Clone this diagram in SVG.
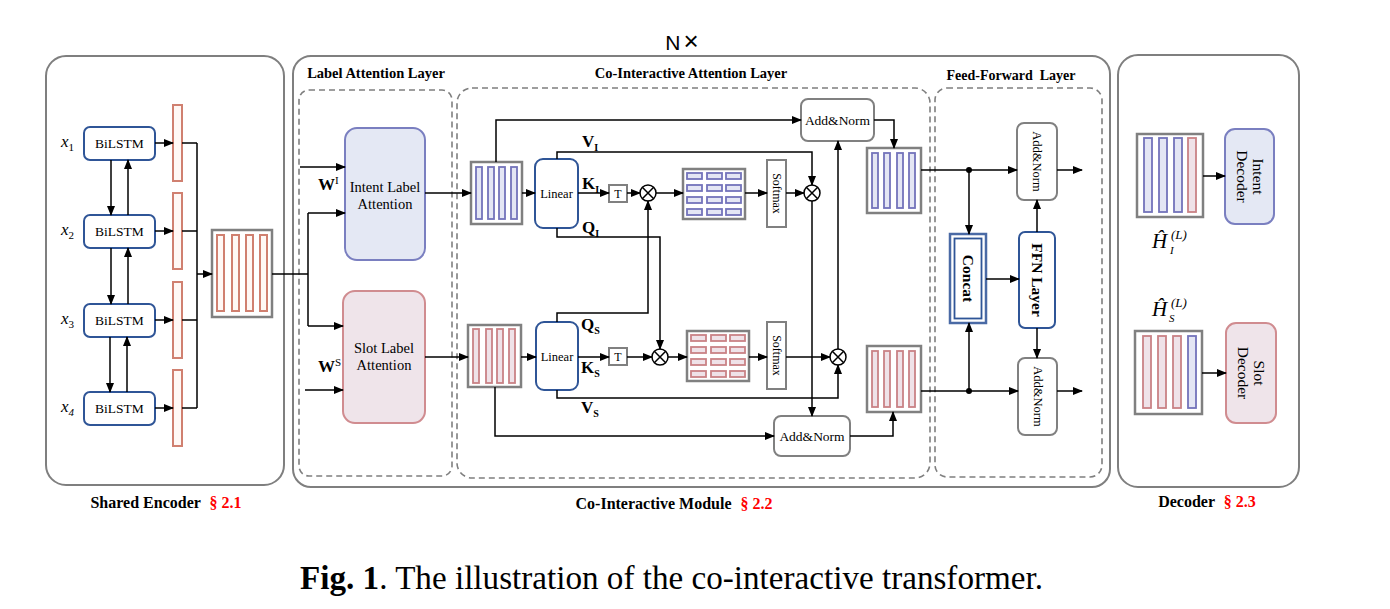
<svg xmlns="http://www.w3.org/2000/svg" width="1390" height="609" viewBox="0 0 1390 609">
<defs>
<marker id="ah" markerWidth="10" markerHeight="8" refX="9" refY="4" orient="auto" markerUnits="userSpaceOnUse">
<path d="M0,0 L10,4 L0,8 Z" fill="#000"/>
</marker>
<style>
.outer{fill:#fff;stroke:#7f7f7f;stroke-width:2}
.dash{fill:none;stroke:#7f7f7f;stroke-width:1.6;stroke-dasharray:6 4}
.bil{fill:#fff;stroke:#2f5597;stroke-width:2}
.sbar{fill:#fff8f5;stroke:#d08070;stroke-width:2}
.mat{fill:#fff;stroke:#808080;stroke-width:2.5}
.pbar{fill:#e4e6f4;stroke:#7373bb;stroke-width:1.8}
.rbar{fill:#efe2e8;stroke:#c98286;stroke-width:1.8}
.gbox{fill:#fff;stroke:#808080;stroke-width:2}
.bbox{fill:#fff;stroke:#2f5597;stroke-width:2}
.c{fill:none;stroke:#000;stroke-width:1.5}
.ca{fill:none;stroke:#000;stroke-width:1.5;marker-end:url(#ah)}
.t{font-family:"Liberation Serif","Times New Roman",serif;fill:#000}
.b{font-weight:bold}
.red{fill:#ff0000}
.ot{fill:#fff;stroke:#000;stroke-width:1.5}
</style>
</defs>

<text x="682" y="50" text-anchor="middle" style="font-family:'Liberation Sans',Arial,sans-serif;font-size:21px" fill="#000">N<tspan font-size="26" font-weight="100" dx="3">×</tspan></text>

<!-- Shared encoder -->
<g id="shared-encoder">
<rect class="outer" x="46" y="56" width="238" height="429" rx="20"/>
</g>
<g id="bilstm1"><rect class="bil" x="84" y="127" width="71" height="33" rx="6"/><text class="t" x="119.5" y="148" font-size="13.5" text-anchor="middle">BiLSTM</text></g>
<g id="bilstm2"><rect class="bil" x="84" y="215" width="71" height="33" rx="6"/><text class="t" x="119.5" y="236" font-size="13.5" text-anchor="middle">BiLSTM</text></g>
<g id="bilstm3"><rect class="bil" x="84" y="304" width="71" height="33" rx="6"/><text class="t" x="119.5" y="325" font-size="13.5" text-anchor="middle">BiLSTM</text></g>
<g id="bilstm4"><rect class="bil" x="84" y="392" width="71" height="33" rx="6"/><text class="t" x="119.5" y="413" font-size="13.5" text-anchor="middle">BiLSTM</text></g>
<g id="x-labels" class="t" font-size="17">
<text x="61" y="147" font-style="italic">x<tspan font-size="11" font-style="normal" dy="4">1</tspan></text>
<text x="61" y="235" font-style="italic">x<tspan font-size="11" font-style="normal" dy="4">2</tspan></text>
<text x="61" y="324" font-style="italic">x<tspan font-size="11" font-style="normal" dy="4">3</tspan></text>
<text x="61" y="412" font-style="italic">x<tspan font-size="11" dy="4">4</tspan></text>
</g>
<g id="enc-bars">
<rect class="sbar" x="173" y="105" width="9" height="76"/>
<rect class="sbar" x="173" y="193" width="9" height="76"/>
<rect class="sbar" x="173" y="282" width="9" height="76"/>
<rect class="sbar" x="173" y="370" width="9" height="76"/>
</g>
<g id="enc-matrix">
<rect class="mat" x="212" y="230" width="60" height="87"/>
<rect class="sbar" x="217" y="235" width="7" height="76"/>
<rect class="sbar" x="232" y="235" width="7" height="76"/>
<rect class="sbar" x="246" y="235" width="7" height="76"/>
<rect class="sbar" x="260" y="235" width="7" height="76"/>
</g>

<!-- Co-interactive module frame -->
<g id="co-interactive-module">
<rect class="outer" x="293" y="56" width="817" height="431" rx="18"/>
<rect class="dash" x="299" y="90" width="153" height="386" rx="10"/>
<rect class="dash" x="457" y="88" width="473" height="390" rx="15"/>
<rect class="dash" x="935" y="88" width="167" height="389" rx="12"/>
<text class="t b" x="376" y="78" font-size="14.5" text-anchor="middle">Label Attention Layer</text>
<text class="t b" x="691" y="78" font-size="14.5" text-anchor="middle">Co-Interactive Attention Layer</text>
<text class="t b" x="1011" y="80" font-size="14" text-anchor="middle" xml:space="preserve">Feed-Forward  Layer</text>
</g>

<g id="intent-label-attention">
<rect x="345" y="128" width="80" height="132" rx="12" fill="#e4e8f4" stroke="#7a7fc0" stroke-width="2"/>
<text class="t" x="385" y="192" font-size="14.5" text-anchor="middle">Intent Label</text>
<text class="t" x="385" y="209" font-size="14.5" text-anchor="middle">Attention</text>
</g>
<g id="slot-label-attention">
<rect x="343" y="291" width="82" height="132" rx="12" fill="#efe4ea" stroke="#d08c90" stroke-width="2"/>
<text class="t" x="384" y="353" font-size="14.5" text-anchor="middle">Slot Label</text>
<text class="t" x="384" y="370" font-size="14.5" text-anchor="middle">Attention</text>
</g>
<g id="w-labels" class="t b">
<text x="318" y="190" font-size="17">W<tspan font-size="11" dy="-6" font-weight="normal">I</tspan></text>
<text x="318" y="372" font-size="17">W<tspan font-size="11" dy="-6" font-weight="normal">S</tspan></text>
</g>

<!-- Co-interactive attention: intent side -->
<g id="intent-matrix">
<rect class="mat" x="471" y="162" width="51" height="62"/>
<rect class="pbar" x="476" y="167" width="6" height="52"/>
<rect class="pbar" x="488" y="167" width="6" height="52"/>
<rect class="pbar" x="499" y="167" width="6" height="52"/>
<rect class="pbar" x="511" y="167" width="6" height="52"/>
</g>
<g id="linear-intent"><rect class="bbox" x="535" y="159" width="43" height="69" rx="8"/><text class="t" x="556.5" y="198" font-size="12.5" text-anchor="middle">Linear</text></g>
<g id="t-intent"><rect class="gbox" x="609" y="185" width="18" height="17"/><text class="t" x="618" y="198" font-size="12" text-anchor="middle">T</text></g>
<g id="mul1"><circle class="ot" cx="648" cy="193" r="8"/><path class="c" d="M642.3,187.3 L653.7,198.7 M653.7,187.3 L642.3,198.7"/></g>
<g id="score-intent">
<rect class="mat" x="683" y="169" width="62" height="50"/>
<g class="pbar">
<rect x="687" y="173" width="15" height="6"/><rect x="707" y="173" width="15" height="6"/><rect x="726" y="173" width="15" height="6"/>
<rect x="687" y="185" width="15" height="6"/><rect x="707" y="185" width="15" height="6"/><rect x="726" y="185" width="15" height="6"/>
<rect x="687" y="197" width="15" height="6"/><rect x="707" y="197" width="15" height="6"/><rect x="726" y="197" width="15" height="6"/>
<rect x="687" y="209" width="15" height="6"/><rect x="707" y="209" width="15" height="6"/><rect x="726" y="209" width="15" height="6"/>
</g>
</g>
<g id="softmax-intent"><rect class="gbox" x="767" y="160" width="19" height="67"/><text class="t" transform="translate(776.5,193.5) rotate(90)" x="0" y="4" font-size="12" text-anchor="middle">Softmax</text></g>
<g id="mul2"><circle class="ot" cx="812" cy="193" r="8"/><path class="c" d="M806.3,187.3 L817.7,198.7 M817.7,187.3 L806.3,198.7"/></g>
<g id="addnorm-intent"><rect class="gbox" x="801" y="99" width="73" height="42" rx="7"/><text class="t" x="837.5" y="125" font-size="13.5" text-anchor="middle">Add&amp;Norm</text></g>
<g id="intent-out-matrix">
<rect class="mat" x="867" y="148" width="54" height="65"/>
<rect class="pbar" x="872" y="153" width="6" height="55"/>
<rect class="pbar" x="884" y="153" width="6" height="55"/>
<rect class="pbar" x="897" y="153" width="6" height="55"/>
<rect class="pbar" x="909" y="153" width="6" height="55"/>
</g>

<!-- slot side -->
<g id="slot-matrix">
<rect class="mat" x="468" y="325" width="53" height="62"/>
<rect class="rbar" x="473" y="329" width="6" height="54"/>
<rect class="rbar" x="486" y="329" width="6" height="54"/>
<rect class="rbar" x="497" y="329" width="6" height="54"/>
<rect class="rbar" x="509" y="329" width="6" height="54"/>
</g>
<g id="linear-slot"><rect class="bbox" x="536" y="322" width="42" height="68" rx="8"/><text class="t" x="557" y="361" font-size="12.5" text-anchor="middle">Linear</text></g>
<g id="t-slot"><rect class="gbox" x="609" y="348" width="18" height="17"/><text class="t" x="618" y="361" font-size="12" text-anchor="middle">T</text></g>
<g id="mul3"><circle class="ot" cx="660" cy="357" r="8"/><path class="c" d="M654.3,351.3 L665.7,362.7 M665.7,351.3 L654.3,362.7"/></g>
<g id="score-slot">
<rect class="mat" x="687" y="331" width="62" height="50"/>
<g class="rbar">
<rect x="691" y="335" width="15" height="6"/><rect x="711" y="335" width="15" height="6"/><rect x="730" y="335" width="15" height="6"/>
<rect x="691" y="347" width="15" height="6"/><rect x="711" y="347" width="15" height="6"/><rect x="730" y="347" width="15" height="6"/>
<rect x="691" y="359" width="15" height="6"/><rect x="711" y="359" width="15" height="6"/><rect x="730" y="359" width="15" height="6"/>
<rect x="691" y="371" width="15" height="6"/><rect x="711" y="371" width="15" height="6"/><rect x="730" y="371" width="15" height="6"/>
</g>
</g>
<g id="softmax-slot"><rect class="gbox" x="767" y="322" width="19" height="67"/><text class="t" transform="translate(776.5,355.5) rotate(90)" x="0" y="4" font-size="12" text-anchor="middle">Softmax</text></g>
<g id="mul4"><circle class="ot" cx="838" cy="357" r="8"/><path class="c" d="M832.3,351.3 L843.7,362.7 M843.7,351.3 L832.3,362.7"/></g>
<g id="addnorm-slot"><rect class="gbox" x="774" y="416" width="76" height="40" rx="7"/><text class="t" x="812" y="441" font-size="13.5" text-anchor="middle">Add&amp;Norm</text></g>
<g id="slot-out-matrix">
<rect class="mat" x="867" y="346" width="54" height="66"/>
<rect class="rbar" x="872" y="351" width="6" height="56"/>
<rect class="rbar" x="884" y="351" width="6" height="56"/>
<rect class="rbar" x="897" y="351" width="6" height="56"/>
<rect class="rbar" x="909" y="351" width="6" height="56"/>
</g>

<g id="qkv-labels" class="t b" font-size="17">
<text x="582" y="147">V<tspan font-size="10" dy="4">I</tspan></text>
<text x="582" y="189">K<tspan font-size="10" dy="4">I</tspan></text>
<text x="582" y="233">Q<tspan font-size="10" dy="4">I</tspan></text>
<text x="581" y="330">Q<tspan font-size="10" dy="4">S</tspan></text>
<text x="581" y="373">K<tspan font-size="10" dy="4">S</tspan></text>
<text x="581" y="413">V<tspan font-size="10" dy="4">S</tspan></text>
</g>

<!-- Feed-forward -->
<g id="ff-addnorm-top"><rect class="gbox" x="1017" y="123" width="40" height="77" rx="7"/><text class="t" transform="translate(1037,161.5) rotate(90)" x="0" y="4" font-size="12.5" text-anchor="middle">Add&amp;Norm</text></g>
<g id="concat">
<rect x="950" y="234" width="36" height="89" fill="#fff" stroke="#4a6aa5" stroke-width="2.5"/>
<rect x="954.5" y="238.5" width="27" height="80" fill="none" stroke="#2f5597" stroke-width="1.8"/>
<text class="t b" transform="translate(968,278.5) rotate(90)" x="0" y="5" font-size="15.5" text-anchor="middle">Concat</text>
</g>
<g id="ffn-layer"><rect class="bbox" x="1019" y="232" width="36" height="96" rx="6"/><text class="t b" transform="translate(1037,280) rotate(90)" x="0" y="5" font-size="15.5" text-anchor="middle">FFN Layer</text></g>
<g id="ff-addnorm-bottom"><rect class="gbox" x="1018" y="358" width="39" height="77" rx="7"/><text class="t" transform="translate(1037.5,396.5) rotate(90)" x="0" y="4" font-size="12.5" text-anchor="middle">Add&amp;Norm</text></g>

<!-- Decoder -->
<g id="decoder"><rect class="outer" x="1118" y="55" width="181" height="432" rx="20"/></g>
<g id="dec-intent-matrix">
<rect class="mat" x="1137" y="134" width="66" height="83"/>
<rect class="pbar" x="1144" y="138" width="8" height="74"/>
<rect class="pbar" x="1159" y="138" width="8" height="74"/>
<rect class="pbar" x="1174" y="138" width="8" height="74"/>
<rect class="rbar" x="1188" y="138" width="8" height="74"/>
</g>
<g id="intent-decoder">
<rect x="1225" y="129" width="49" height="95" rx="10" fill="#e4e8f4" stroke="#7a7fc0" stroke-width="2"/>
<g transform="translate(1249.5,176.5) rotate(90)"><text class="t" x="0" y="-3" font-size="15.5" text-anchor="middle">Intent</text><text class="t" x="0" y="13" font-size="15.5" text-anchor="middle">Decoder</text></g>
</g>
<g id="dec-slot-matrix">
<rect class="mat" x="1135" y="331" width="67" height="83"/>
<rect class="rbar" x="1143" y="336" width="8" height="72"/>
<rect class="rbar" x="1158" y="336" width="8" height="72"/>
<rect class="rbar" x="1173" y="336" width="8" height="72"/>
<rect class="pbar" x="1188" y="336" width="8" height="72"/>
</g>
<g id="slot-decoder">
<rect x="1226" y="323" width="50" height="100" rx="10" fill="#efe4ea" stroke="#d08c90" stroke-width="2"/>
<g transform="translate(1251,373) rotate(90)"><text class="t" x="0" y="-3" font-size="15.5" text-anchor="middle">Slot</text><text class="t" x="0" y="13" font-size="15.5" text-anchor="middle">Decoder</text></g>
</g>
<g id="h-labels" class="t" font-style="italic">
<text x="1152" y="248" font-size="21">Ĥ</text>
<text x="1171" y="239" font-size="13">(L)</text>
<text x="1170" y="254" font-size="11">I</text>
<text x="1152" y="316" font-size="21">Ĥ</text>
<text x="1171" y="307" font-size="13">(L)</text>
<text x="1169" y="322" font-size="11">S</text>
</g>

<!-- Connectors -->
<g id="connectors">
<line class="ca" x1="111" y1="160" x2="111" y2="215"/>
<line class="ca" x1="128" y1="215" x2="128" y2="160"/>
<line class="ca" x1="111" y1="248" x2="111" y2="304"/>
<line class="ca" x1="128" y1="304" x2="128" y2="248"/>
<line class="ca" x1="110" y1="337" x2="110" y2="392"/>
<line class="ca" x1="127" y1="392" x2="127" y2="337"/>
<line class="ca" x1="155" y1="143" x2="173" y2="143"/>
<line class="ca" x1="155" y1="231" x2="173" y2="231"/>
<line class="ca" x1="155" y1="320" x2="173" y2="320"/>
<line class="ca" x1="155" y1="408" x2="173" y2="408"/>
<path class="c" d="M182,143 H197 M182,231 H197 M182,320 H197 M182,408 H197 M197,143 V408"/>
<line class="ca" x1="197" y1="274" x2="212" y2="274"/>
<path class="c" d="M272,274 H308 M308,213 V326"/>
<line class="ca" x1="308" y1="213" x2="345" y2="213"/>
<line class="ca" x1="308" y1="326" x2="343" y2="326"/>
<line class="ca" x1="300" y1="167" x2="345" y2="167"/>
<line class="ca" x1="305" y1="390" x2="343" y2="390"/>
<line class="ca" x1="425" y1="193" x2="471" y2="193"/>
<line class="ca" x1="425" y1="357" x2="468" y2="357"/>
<line class="ca" x1="522" y1="193" x2="535" y2="193"/>
<path class="ca" d="M496,162 V120 H801"/>
<path class="ca" d="M874,120 H894 V148"/>
<path class="ca" d="M557,159 V152 H812 V185"/>
<line class="ca" x1="578" y1="193" x2="609" y2="193"/>
<line class="ca" x1="627" y1="193" x2="640" y2="193"/>
<line class="ca" x1="656" y1="193" x2="683" y2="193"/>
<line class="ca" x1="745" y1="193" x2="767" y2="193"/>
<line class="ca" x1="786" y1="193" x2="804" y2="193"/>
<path class="ca" d="M812,201 V416"/>
<path class="ca" d="M557,228 V237 H660 V349"/>
<path class="ca" d="M557,322 V313 H648 V201"/>
<path class="ca" d="M838,349 V141"/>
<line class="ca" x1="521" y1="357" x2="536" y2="357"/>
<line class="ca" x1="578" y1="357" x2="609" y2="357"/>
<line class="ca" x1="627" y1="357" x2="652" y2="357"/>
<line class="ca" x1="668" y1="357" x2="687" y2="357"/>
<line class="ca" x1="749" y1="357" x2="767" y2="357"/>
<line class="ca" x1="786" y1="357" x2="830" y2="357"/>
<path class="ca" d="M557,390 V398 H838 V365"/>
<path class="ca" d="M495,387 V436 H774"/>
<path class="ca" d="M850,436 H893 V412"/>
<line class="ca" x1="921" y1="170" x2="1017" y2="170"/>
<line class="ca" x1="969" y1="170" x2="969" y2="234"/>
<line class="ca" x1="1057" y1="170" x2="1082" y2="170"/>
<line class="ca" x1="986" y1="279" x2="1019" y2="279"/>
<line class="ca" x1="1037" y1="232" x2="1037" y2="200"/>
<line class="ca" x1="1037" y1="328" x2="1037" y2="358"/>
<line class="ca" x1="921" y1="391" x2="1018" y2="391"/>
<line class="ca" x1="969" y1="391" x2="969" y2="323"/>
<line class="ca" x1="1057" y1="391" x2="1082" y2="391"/>
<circle cx="969" cy="170" r="3" fill="#000"/>
<circle cx="969" cy="391" r="3" fill="#000"/>
<line class="ca" x1="1203" y1="176" x2="1225" y2="176"/>
<line class="ca" x1="1202" y1="373" x2="1226" y2="373"/>
</g>

<!-- section labels -->
<text class="t b" x="166" y="508" font-size="16" text-anchor="middle">Shared Encoder <tspan class="red" dx="5">§ 2.1</tspan></text>
<text class="t b" x="674" y="509" font-size="16" text-anchor="middle">Co-Interactive Module <tspan class="red" dx="5">§ 2.2</tspan></text>
<text class="t b" x="1207" y="507" font-size="16" text-anchor="middle">Decoder <tspan class="red" dx="5">§ 2.3</tspan></text>

<text class="t" x="300" y="589" font-size="33" textLength="743" lengthAdjust="spacingAndGlyphs"><tspan font-weight="bold">Fig. 1</tspan>. The illustration of the co-interactive transformer.</text>
</svg>
